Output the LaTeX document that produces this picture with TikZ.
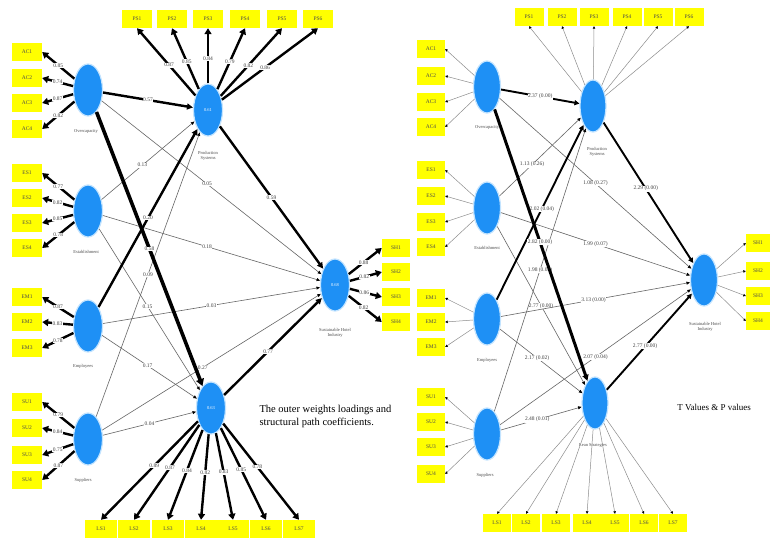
\documentclass[tikz,border=0pt]{standalone}
\usepackage{fontspec}
\setmainfont{Liberation Serif}
\usetikzlibrary{shapes.geometric,arrows.meta}
\definecolor{lvblue}{RGB}{30,144,245}
\definecolor{lvglow}{RGB}{195,228,255}
\definecolor{boxyel}{RGB}{255,255,0}
\begin{document}
\begin{tikzpicture}[x=1pt,y=-1pt,
 lv/.style={ellipse, fill=lvblue, draw=lvglow, line width=1.2pt, inner sep=0pt, minimum width=29pt, minimum height=52pt, text=white, font=\fontsize{4.5}{5}\selectfont},
 ibox/.style={rectangle, fill=boxyel, inner sep=0pt, minimum width=30pt, minimum height=18pt, font=\fontsize{5.5}{6}\selectfont, text=black!70},
 lab/.style={fill=white, inner sep=0.5pt, font=\fontsize{5.5}{6}\selectfont, text=black!75},
 lvcap/.style={font=\fontsize{4.5}{5.2}\selectfont, text=black!70, align=center},
 thk/.style={draw=black, line width=2.4pt, -{Triangle[length=6pt,width=6pt]}},
 vthk/.style={draw=black, line width=3.6pt, -{Triangle[length=7pt,width=8pt]}},
 thn/.style={draw=black!60, line width=0.6pt, -{Triangle[length=3.5pt,width=3pt,black]}},
 ind/.style={draw=black, line width=2.4pt, -{Triangle[length=6pt,width=7pt]}},
 rind/.style={draw=black!45, line width=0.5pt, -{Triangle[length=2.5pt,width=2.5pt,black]}},
 rthk/.style={draw=black, line width=1.9pt, -{Triangle[length=5pt,width=5pt]}},
 rvthk/.style={draw=black, line width=3pt, -{Triangle[length=6pt,width=6pt]}},
]
\useasboundingbox[fill=white] (0,0) rectangle (770,544);

% ================= LEFT PANEL =================
\foreach \i/\y/\t in {1/52/AC1,2/78/AC2,3/103/AC3,4/129/AC4}
  \node[ibox] (la\i) at (27,\y) {\t};
\foreach \i/\y/\t in {1/173/ES1,2/198/ES2,3/223/ES3,4/248/ES4}
  \node[ibox] (lb\i) at (27,\y) {\t};
\foreach \i/\y/\t in {1/297/EM1,2/322/EM2,3/348/EM3}
  \node[ibox] (lc\i) at (27,\y) {\t};
\foreach \i/\y/\t in {1/402/SU1,2/428/SU2,3/455/SU3,4/480/SU4}
  \node[ibox] (ld\i) at (27,\y) {\t};
\foreach \i/\x/\t in {1/137/PS1,2/172/PS2,3/208/PS3,4/245/PS4,5/282/PS5,6/318/PS6}
  \node[ibox] (lt\i) at (\x,19) {\t};
\foreach \i/\x/\t in {1/101/LS1,2/134/LS2,3/168/LS3,4/201/LS4,5/233/LS5,6/266/LS6,7/299/LS7}
  \node[ibox, minimum width=32pt] (lbb\i) at (\x,529) {\t};
\foreach \i/\y/\t in {1/248/SH1,2/272/SH2,3/297/SH3,4/322/SH4}
  \node[ibox, minimum width=28pt] (lo\i) at (396,\y) {\t};

\node[lv] (L1) at (88,90) {};
\node[lv] (L2) at (88,211) {};
\node[lv] (L3) at (88,326) {};
\node[lv] (L4) at (88,439) {};
\node[lv] (LT) at (208,110) {0.61};
\node[lv] (LB) at (211,408) {0.63};
\node[lv] (LO) at (335,285) {0.68};

\node[lvcap] (L1c) at (86,131) {Overcapacity};
\node[lvcap] (L2c) at (86,252) {Establishment};
\node[lvcap] (L3c) at (83,366) {Employees};
\node[lvcap] (L4c) at (83,480) {Suppliers};
\node[lvcap] (LTc) at (208,156) {Production\\Systems};
\node[lvcap] (LOc) at (335,333) {Sustainable Hotel\\Industry};

\foreach \i/\v in {1/0.85,2/0.74,3/0.87,4/0.82}
  \draw[ind] (L1) -- node[lab,pos=0.5]{\v} (la\i.east);
\foreach \i/\v in {1/0.77,2/0.82,3/0.85,4/0.78}
  \draw[ind] (L2) -- node[lab,pos=0.5]{\v} (lb\i.east);
\foreach \i/\v in {1/0.87,2/0.83,3/0.78}
  \draw[ind] (L3) -- node[lab,pos=0.5]{\v} (lc\i.east);
\foreach \i/\v in {1/0.79,2/0.84,3/0.75,4/0.87}
  \draw[ind] (L4) -- node[lab,pos=0.5]{\v} (ld\i.east);
\foreach \i/\v in {1/0.87,2/0.85,3/0.84,4/0.79,5/0.82,6/0.86}
  \draw[ind] (LT) -- node[lab,pos=0.45]{\v} (lt\i.south);
\foreach \i/\v in {1/0.89,2/0.87,3/0.84,4/0.82,5/0.83,6/0.85,7/0.78}
  \draw[ind] (LB) -- node[lab,pos=0.45]{\v} (lbb\i.north);
\foreach \i/\v in {1/0.88,2/0.82,3/0.86,4/0.82}
  \draw[ind] (LO) -- node[lab,pos=0.45]{\v} (lo\i.west);

\draw[thn] (L1) -- node[lab,pos=0.48]{0.05} (LO);
\draw[thn] (L2) -- node[lab,pos=0.44]{0.13} (LT);
\draw[thn] (L2) -- node[lab,pos=0.48]{0.18} (LO);
\draw[thn] (L2) -- node[lab,pos=0.48]{0.15} (LB);
\draw[thn] (L3) -- node[lab,pos=0.5]{0.03} (LO);
\draw[thn] (L3) -- node[lab,pos=0.48]{0.17} (LB);
\draw[thn] (L4) -- node[lab,pos=0.5]{0.09} (LT);
\draw[thn] (L4) -- node[lab,pos=0.5]{0.04} (LB);
\draw[thn] (L4) -- node[lab,pos=0.46]{0.27} (LO);
\draw[thk] (L3) -- node[lab,pos=0.5]{0.20} (LT);
\draw[thk] (L1) -- node[lab,pos=0.5]{0.57} (LT);
\draw[vthk] (L1) -- node[lab,pos=0.5]{0.58} (LB);
\draw[thk] (LT) -- node[lab,pos=0.5]{0.59} (LO);
\draw[thk] (LB) -- node[lab,pos=0.45]{0.77} (LO);

\node[anchor=west, font=\fontsize{10.5}{13}\selectfont, align=left] (ltext) at (256,416)
  {The outer weights loadings and\\structural path coefficients.};

% ================= RIGHT PANEL =================
\foreach \i/\y/\t in {1/49/AC1,2/76/AC2,3/102/AC3,4/127/AC4}
  \node[ibox, minimum width=28pt] (ra\i) at (431,\y) {\t};
\foreach \i/\y/\t in {1/170/ES1,2/196/ES2,3/222/ES3,4/247/ES4}
  \node[ibox, minimum width=28pt] (rb\i) at (431,\y) {\t};
\foreach \i/\y/\t in {1/298/EM1,2/322/EM2,3/347/EM3}
  \node[ibox, minimum width=28pt] (rc\i) at (431,\y) {\t};
\foreach \i/\y/\t in {1/397/SU1,2/422/SU2,3/447/SU3,4/474/SU4}
  \node[ibox, minimum width=28pt] (rd\i) at (431,\y) {\t};
\foreach \i/\x/\t in {1/529/PS1,2/562/PS2,3/594/PS3,4/627/PS4,5/658/PS5,6/689/PS6}
  \node[ibox, minimum width=29pt] (rt\i) at (\x,17) {\t};
\foreach \i/\x/\t in {1/497/LS1,2/526/LS2,3/556/LS3,4/587/LS4,5/615/LS5,6/644/LS6,7/673/LS7}
  \node[ibox, minimum width=28pt] (rbb\i) at (\x,523) {\t};
\foreach \i/\y/\t in {1/243/SH1,2/271/SH2,3/296/SH3,4/321/SH4}
  \node[ibox, minimum width=24pt] (ro\i) at (758,\y) {\t};

\node[lv, minimum width=27pt] (R1) at (487,87) {};
\node[lv, minimum width=27pt] (R2) at (487,208) {};
\node[lv, minimum width=27pt] (R3) at (487,319) {};
\node[lv, minimum width=27pt] (R4) at (487,434) {};
\node[lv, minimum width=26pt] (RT) at (593,106) {};
\node[lv, minimum width=26pt] (RB) at (595,403) {};
\node[lv, minimum width=27pt] (RO) at (704,280) {};

\node[lvcap] (R1c) at (487,127) {Overcapacity};
\node[lvcap] (R2c) at (487,248) {Establishment};
\node[lvcap] (R3c) at (487,360) {Employees};
\node[lvcap] (R4c) at (485,475) {Suppliers};
\node[lvcap] (RTc) at (597,152) {Production\\Systems};
\node[lvcap] (RBc) at (593,445) {Lean Strategies};
\node[lvcap] (ROc) at (705,327) {Sustainable Hotel\\Industry};

\foreach \i in {1,2,3,4} \draw[rind] (R1) -- (ra\i.east);
\foreach \i in {1,2,3,4} \draw[rind] (R2) -- (rb\i.east);
\foreach \i in {1,2,3} \draw[rind] (R3) -- (rc\i.east);
\foreach \i in {1,2,3,4} \draw[rind] (R4) -- (rd\i.east);
\foreach \i in {1,...,6} \draw[rind] (RT) -- (rt\i.south);
\foreach \i in {1,...,7} \draw[rind] (RB) -- (rbb\i.north);
\foreach \i in {1,2,3,4} \draw[rind] (RO) -- (ro\i.west);

\draw[thn] (R1) -- node[lab,pos=0.5]{1.08 (0.27)} (RO);
\draw[thn] (R2) -- node[lab,pos=0.4]{1.13 (0.26)} (RT);
\draw[thn] (R2) -- node[lab,pos=0.5]{1.99 (0.07)} (RO);
\draw[thn] (R2) -- node[lab,pos=0.5]{2.77 (0.00)} (RB);
\draw[thn] (R3) -- node[lab,pos=0.49]{3.13 (0.00)} (RO);
\draw[thn] (R3) -- node[lab,pos=0.45]{2.17 (0.02)} (RB);
\draw[thn] (R4) -- node[lab,pos=0.5]{1.98 (0.02)} (RT);
\draw[thn] (R4) -- node[lab,pos=0.45]{2.48 (0.01)} (RB);
\draw[thn] (R4) -- node[lab,pos=0.5]{2.07 (0.04)} (RO);
\draw[rthk] (R3) -- node[lab,pos=0.52]{2.02 (0.04)} (RT);
\draw[rthk] (R1) -- node[lab,pos=0.5]{2.37 (0.00)} (RT);
\draw[rvthk] (R1) -- node[lab,pos=0.49]{2.82 (0.00)} (RB);
\draw[rthk] (RT) -- node[lab,pos=0.47]{2.29 (0.00)} (RO);
\draw[rthk] (RB) -- node[lab,pos=0.45]{2.77 (0.00)} (RO);

\node[font=\fontsize{9}{11}\selectfont] (rtext) at (714,407) {T Values \& P values};
\end{tikzpicture}
\end{document}
